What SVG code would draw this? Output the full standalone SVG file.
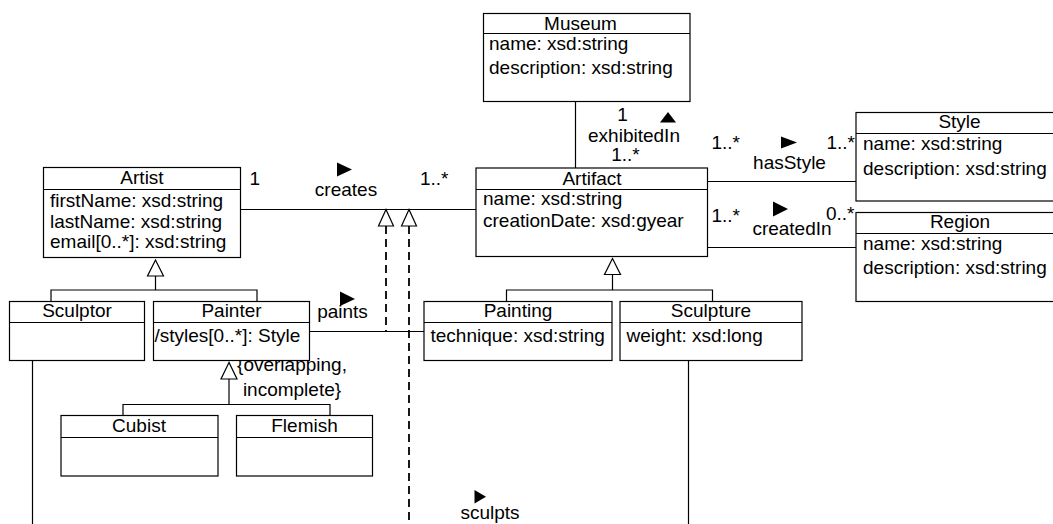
<svg xmlns="http://www.w3.org/2000/svg" width="1053" height="524" viewBox="0 0 1053 524">
<style>
text{font-family:"Liberation Sans",Arial,Helvetica,sans-serif;font-size:19px;fill:#000}
.t{text-anchor:middle}
.m{text-anchor:middle}
.box{fill:#fff;stroke:#000;stroke-width:1.2}
.sep{stroke:#000;stroke-width:1.2}
.ln{fill:none;stroke:#000;stroke-width:1.2}
.dash{fill:none;stroke:#000;stroke-width:1.8;stroke-dasharray:8 5}
.hol{fill:#fff;stroke:#000;stroke-width:1.2}
.dir{fill:#000;stroke:none}
</style>
<rect width="1053" height="524" fill="#fff"/>
<g id="connectors">
  <line class="ln" x1="240.5" y1="209.5" x2="476" y2="209.5"/>
  <line class="ln" x1="575.5" y1="101.5" x2="575.5" y2="168"/>
  <line class="ln" x1="707.5" y1="181.5" x2="856" y2="181.5"/>
  <line class="ln" x1="707.5" y1="247.5" x2="856" y2="247.5"/>
  <line class="ln" x1="309.5" y1="331.5" x2="424" y2="331.5"/>
  <line class="ln" x1="32.5" y1="360.5" x2="32.5" y2="524"/>
  <line class="ln" x1="688.5" y1="360.5" x2="688.5" y2="524"/>
  <!-- Artist generalization -->
  <polygon class="hol" points="155.5,260 147.5,276 163.5,276"/>
  <polyline class="ln" points="155.5,276 155.5,290"/>
  <polyline class="ln" points="51,301.5 51,290 257,290 257,301.5"/>
  <!-- Artifact generalization -->
  <polygon class="hol" points="612.5,258.5 604.5,274.5 620.5,274.5"/>
  <polyline class="ln" points="612.5,274.5 612.5,290"/>
  <polyline class="ln" points="506.5,301.5 506.5,290 712.5,290 712.5,301.5"/>
  <!-- Painter generalization -->
  <polygon class="hol" points="229,362.5 221,379 237,379"/>
  <polyline class="ln" points="229,379 229,404.5"/>
  <polyline class="ln" points="123,415.5 123,404.5 330,404.5 330,415.5"/>
  <!-- dashed lines to creates association -->
  <line class="dash" x1="386" y1="226" x2="386" y2="331.5"/>
  <line class="dash" x1="409" y1="226" x2="409" y2="524"/>
  <polygon class="hol" points="386,209.5 378.5,226 393.5,226"/>
  <polygon class="hol" points="409,209.5 401.5,226 416.5,226"/>
  <!-- direction markers -->
  <polygon class="dir" points="337,162.5 352,169.5 337,176.5"/>
  <polygon class="dir" points="340,291.5 355,299 340,306"/>
  <polygon class="dir" points="660,122.5 668,112 676,122.5"/>
  <polygon class="dir" points="781,136.5 797,142.5 781,148.5"/>
  <polygon class="dir" points="773,201.5 788,209 773,216.5"/>
  <polygon class="dir" points="474.5,490 486,496.7 474.5,503.5"/>
  <!-- labels -->
  <text x="249.5" y="185">1</text>
  <text x="420" y="185">1..*</text>
  <text class="m" x="346" y="195.5">creates</text>
  <text class="m" x="342.5" y="318">paints</text>
  <text class="m" x="622.5" y="121">1</text>
  <text class="m" x="634" y="141.5">exhibitedIn</text>
  <text class="m" x="625.5" y="161">1..*</text>
  <text x="711.5" y="148.5">1..*</text>
  <text class="m" x="789.5" y="168.5">hasStyle</text>
  <text x="826.5" y="148.5">1..*</text>
  <text x="711.5" y="221.5">1..*</text>
  <text class="m" x="792" y="235">createdIn</text>
  <text x="826" y="220">0..*</text>
  <text class="m" x="490" y="518.5">sculpts</text>
  <text class="m" x="292" y="370.5">{overlapping,</text>
  <text class="m" x="292" y="396">incomplete}</text>
</g>
<g id="Museum">
  <rect class="box" x="483.5" y="13.5" width="206.5" height="88"/>
  <line class="sep" x1="483.5" y1="33.5" x2="690" y2="33.5"/>
  <text class="t" x="580.5" y="29.5">Museum</text>
  <text x="489" y="50">name: xsd:string</text>
  <text x="489" y="73.5">description: xsd:string</text>
</g>
<g id="Artifact">
  <rect class="box" x="476" y="168" width="231.5" height="88.5"/>
  <line class="sep" x1="476" y1="189.5" x2="707.5" y2="189.5"/>
  <text class="t" x="592" y="184.5">Artifact</text>
  <text x="483" y="205">name: xsd:string</text>
  <text x="483" y="227">creationDate: xsd:gyear</text>
</g>
<g id="Artist">
  <rect class="box" x="43.5" y="167.5" width="197" height="90"/>
  <line class="sep" x1="43.5" y1="189.5" x2="240.5" y2="189.5"/>
  <text class="t" x="142" y="183.5">Artist</text>
  <text x="50" y="206.5">firstName: xsd:string</text>
  <text x="50" y="227.5">lastName: xsd:string</text>
  <text x="50" y="248">email[0..*]: xsd:string</text>
</g>
<g id="Style">
  <rect class="box" x="856" y="112.5" width="207" height="88.5"/>
  <line class="sep" x1="856" y1="133.5" x2="1063" y2="133.5"/>
  <text class="t" x="959.5" y="128">Style</text>
  <text x="863" y="149.5">name: xsd:string</text>
  <text x="863" y="175">description: xsd:string</text>
</g>
<g id="Region">
  <rect class="box" x="856" y="212.5" width="207" height="89"/>
  <line class="sep" x1="856" y1="233.5" x2="1063" y2="233.5"/>
  <text class="t" x="960" y="228">Region</text>
  <text x="863" y="250">name: xsd:string</text>
  <text x="863" y="274">description: xsd:string</text>
</g>
<g id="Sculptor">
  <rect class="box" x="9.5" y="301.5" width="135" height="59"/>
  <line class="sep" x1="9.5" y1="322.5" x2="144.5" y2="322.5"/>
  <text class="t" x="77" y="317">Sculptor</text>
</g>
<g id="Painter">
  <rect class="box" x="153.5" y="301.5" width="156" height="59"/>
  <line class="sep" x1="153.5" y1="322.5" x2="309.5" y2="322.5"/>
  <text class="t" x="231.5" y="317">Painter</text>
  <text x="154.5" y="341.5">/styles[0..*]: Style</text>
</g>
<g id="Painting">
  <rect class="box" x="424" y="301.5" width="188" height="59"/>
  <line class="sep" x1="424" y1="322.5" x2="612" y2="322.5"/>
  <text class="t" x="518" y="317">Painting</text>
  <text x="430.5" y="341.5">technique: xsd:string</text>
</g>
<g id="Sculpture">
  <rect class="box" x="620" y="301.5" width="182" height="59"/>
  <line class="sep" x1="620" y1="322.5" x2="802" y2="322.5"/>
  <text class="t" x="711" y="317">Sculpture</text>
  <text x="626.5" y="341.5">weight: xsd:long</text>
</g>
<g id="Cubist">
  <rect class="box" x="61" y="415.5" width="157" height="60.5"/>
  <line class="sep" x1="61" y1="437.5" x2="218" y2="437.5"/>
  <text class="t" x="139" y="431.5">Cubist</text>
</g>
<g id="Flemish">
  <rect class="box" x="236.5" y="415.5" width="136" height="60.5"/>
  <line class="sep" x1="236.5" y1="437.5" x2="372.5" y2="437.5"/>
  <text class="t" x="304.5" y="431.5">Flemish</text>
</g>
</svg>
